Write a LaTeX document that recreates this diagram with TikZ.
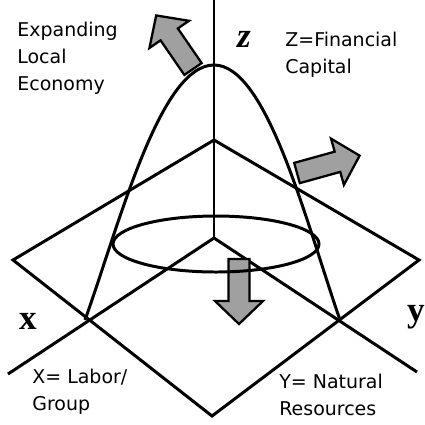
\documentclass[tikz,border=0pt]{standalone}
\usepackage{fontspec}
\setmainfont{Liberation Serif}
\setsansfont{DejaVu Sans}
\usetikzlibrary{positioning}
\definecolor{arrowgray}{HTML}{A0A0A0}
\tikzset{
  planeline/.style={line width=1.7pt,black,line join=miter},
  cupline/.style={line width=1.7pt,black},
  labeltext/.style={font=\sffamily\fontsize{10.8}{15.3}\selectfont,align=left,anchor=north west,inner sep=0pt},
  axislabel/.style={font=\bfseries\fontsize{20}{20}\selectfont,anchor=base,inner sep=0pt},
  arrowbody/.style={draw=black,line width=1.3pt,fill=arrowgray,line join=miter},
  pics/flowarrow/.style={code={
    \draw[arrowbody] (0,-10.5) -- (42,-10.5) -- (42,-24) -- (65,0) -- (42,24) -- (42,10.5) -- (0,10.5) -- cycle;
  }},
}

\begin{document}
\begin{tikzpicture}[x=0.02cm,y=-0.02cm]
  \useasboundingbox (0,0) rectangle (425,424);
  % plane and axes
  \coordinate (pTop) at (214,140);
  \coordinate (pLeft) at (13,260);
  \coordinate (pRight) at (419,260);
  \coordinate (pBottom) at (212,416);
  \coordinate (pMid) at (214,238);
  \coordinate (xEnd) at (8,374);
  \coordinate (yEnd) at (417,372);
  \coordinate (zTop) at (214,0);
  \coordinate (xCross) at (85,320);
  \coordinate (yCross) at (340,320);
  \coordinate (peak) at (214,65);
  \draw[planeline] (pLeft) -- (pTop) -- (pRight) -- (pBottom) -- cycle;
  \draw[planeline] (xEnd) -- (pMid) -- (yEnd);
  \draw[planeline] (zTop) -- (pMid);
  % growth arrows
  \pic[rotate=124.5] at (193,69) {flowarrow};
  \pic[rotate=15.5] at (297,173) {flowarrow};
  \pic[rotate=-90] at (239,259) {flowarrow};
  % the cup
  \draw[cupline] (xCross) .. controls (120,222) and (160,65) .. (peak)
    .. controls (267,65) and (306,222) .. (yCross);
  \draw[cupline] (216,244) ellipse [x radius=103, y radius=28];
  % labels
  \node[labeltext] (growLbl) at (17,22) {Expanding\\Local\\Economy};
  \node[labeltext] (zLbl) at (285,32) {Z=Financial\\Capital};
  \node[labeltext] (xLbl) at (32,369) {X= Labor/\\Group};
  \node[labeltext] (yLbl) at (279,374) {Y= Natural\\Resources};
  \node[axislabel] (xName) at (28,329) {x};
  \node[axislabel] (yName) at (416,321) {y};
  \node[axislabel] (zName) at (244,47) {\textit{z}};
\end{tikzpicture}
\end{document}
